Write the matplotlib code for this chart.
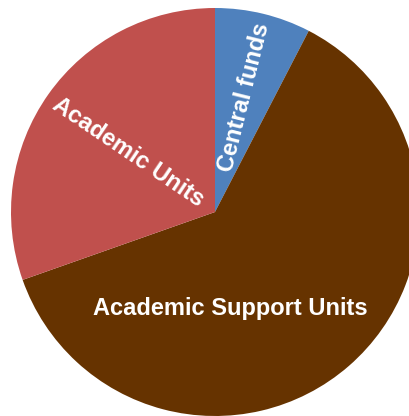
import numpy as np
import matplotlib.pyplot as plt

plt.rcParams['font.family'] = ['Liberation Sans', 'DejaVu Sans']

labels = ['Central funds', 'Academic Support Units', 'Academic Units']
shares = [7.6, 62.0, 30.4]
colors = ['#4F81BD', '#663300', '#C0504D']

fig = plt.figure(figsize=(4.09, 4.16), dpi=100)
ax = fig.add_axes([0, 0, 1, 1])
ax.pie(shares, colors=colors, startangle=90, counterclock=False,
       radius=204, center=(0, 0), frame=True)
ax.set_xlim(-215, 194)
ax.set_ylim(-204, 212)
ax.set_aspect('equal')
ax.axis('off')

# label placement (pixel-ish units, centre of pie at origin)
txt = dict(color='white', fontweight='bold', fontsize=17, ha='center', va='center')
ax.text(29, 115, labels[0], rotation=76, **txt)
ax.text(15, -97, labels[1], **txt)
ax.text(-87, 60, labels[2], rotation=-34, **txt)

fig.savefig('out.png', dpi=100)
